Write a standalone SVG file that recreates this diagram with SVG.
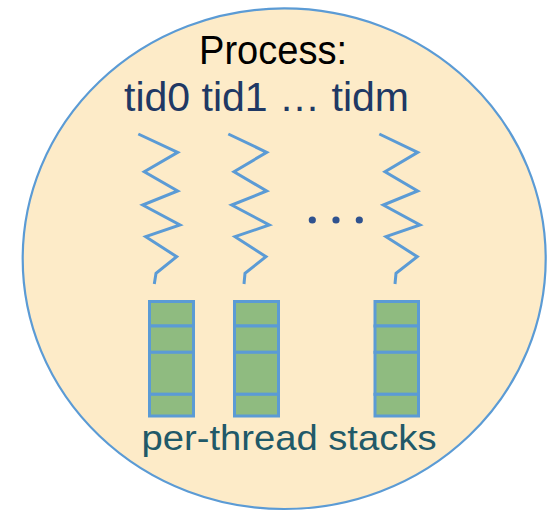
<svg xmlns="http://www.w3.org/2000/svg" width="555" height="511" viewBox="0 0 555 511">
  <style>
    .proc { fill: #fdebc8; stroke: #5b9bd5; stroke-width: 2.2; }
    .thread { fill: none; stroke: #5b9bd5; stroke-width: 3; stroke-linejoin: miter; stroke-linecap: butt; }
    .frame { fill: #8fbb80; stroke: #5b9bd5; stroke-width: 3; }
    .dot { fill: #2f528f; }
    .label { font-family: "Liberation Sans", Arial, sans-serif; }
  </style>

  <!-- process boundary -->
  <g id="process">
    <ellipse class="proc" cx="284.2" cy="258.7" rx="261.5" ry="250.3"/>
    <text class="label" x="199" y="64" font-size="40" fill="#000000" textLength="148" lengthAdjust="spacingAndGlyphs">Process:</text>
    <text class="label" x="124" y="110.5" font-size="40" fill="#203864" textLength="285" lengthAdjust="spacingAndGlyphs">tid0 tid1 … tidm</text>
  </g>

  <!-- threads (zigzag lines) -->
  <g id="threads">
    <g id="thread0">
      <polyline class="thread" points="138.3,134 177.7,152.3 144.3,171.7 177.7,191 142.7,205 180,225 145.7,236.7 176.7,256.7 156,273.3 154.3,284"/>
    </g>
    <g id="thread1">
      <polyline class="thread" points="228.3,134 266.7,152.3 234,171.7 266.7,191 231.7,205 269.3,225 235,236.7 266,256.7 245,273.3 244,284"/>
    </g>
    <g id="threadm">
      <polyline class="thread" points="379.3,134 417.7,152.3 385,171.7 417.7,191 383.3,205 420,225 386,236.7 417.3,256.7 396,273.3 395,284"/>
    </g>
    <g id="ellipsis">
      <circle class="dot" cx="312.3" cy="220" r="3.6"/>
      <circle class="dot" cx="336" cy="220" r="3.6"/>
      <circle class="dot" cx="359.3" cy="220" r="3.6"/>
    </g>
  </g>

  <!-- per-thread stacks -->
  <g id="stacks">
    <g id="stack0">
      <rect class="frame" x="149.5" y="301.5" width="44" height="24.5"/>
      <rect class="frame" x="149.5" y="326" width="44" height="26.3"/>
      <rect class="frame" x="149.5" y="352.3" width="44" height="42"/>
      <rect class="frame" x="149.5" y="394.3" width="44" height="21.7"/>
    </g>
    <g id="stack1">
      <rect class="frame" x="234.5" y="301.5" width="44" height="24.5"/>
      <rect class="frame" x="234.5" y="326" width="44" height="26.3"/>
      <rect class="frame" x="234.5" y="352.3" width="44" height="42"/>
      <rect class="frame" x="234.5" y="394.3" width="44" height="21.7"/>
    </g>
    <g id="stackm">
      <rect class="frame" x="375" y="301.5" width="43.5" height="24.5"/>
      <rect class="frame" x="375" y="326" width="43.5" height="26.3"/>
      <rect class="frame" x="375" y="352.3" width="43.5" height="42"/>
      <rect class="frame" x="375" y="394.3" width="43.5" height="21.7"/>
    </g>
    <text class="label" x="141.5" y="449.5" font-size="35" fill="#215968" textLength="295" lengthAdjust="spacingAndGlyphs">per-thread stacks</text>
  </g>
</svg>
